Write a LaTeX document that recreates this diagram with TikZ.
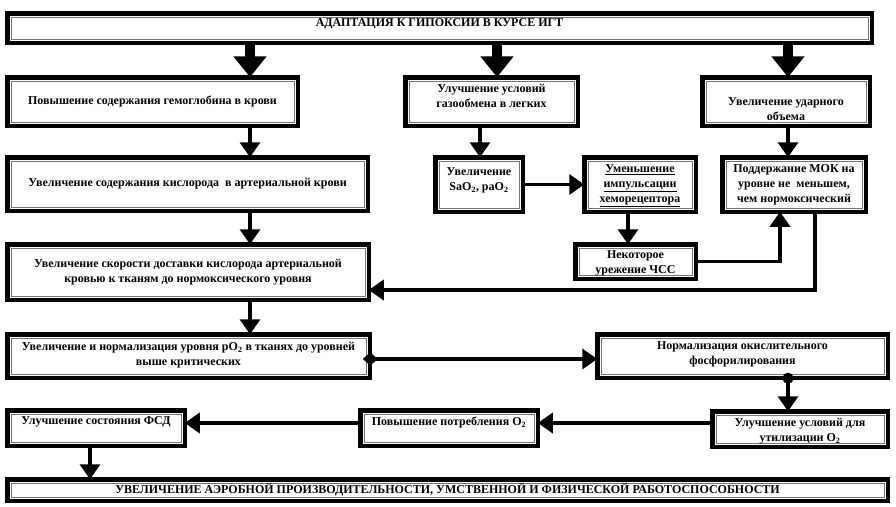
\documentclass[tikz,border=0pt]{standalone}
\usepackage{fontspec}
\setmainfont{Liberation Serif}
\usetikzlibrary{arrows.meta}
% name, x1, y1, x2, y2, inner alignment (t/c/b), top pad, text
\newcommand\bx[8]{%
  \node[box, minimum width={#4-#2-4.5}, minimum height={#5-#3-4.5}] (#1) at ({(#2+#4)/2},{(#3+#5)/2})
  {\parbox[c][\dimexpr#5pt-#3pt-7pt\relax][#6]{\dimexpr#4pt-#2pt-12pt\relax}{\vspace*{#7pt}\centering #8}};}
\begin{document}
\begin{tikzpicture}[x=1pt,y=-1pt,
  box/.style={draw=black, line width=4.5pt, fill=white, inner sep=0pt, outer sep=0pt,
    font=\bfseries\fontsize{12}{15}\selectfont,
    path picture={\draw[black!55, line width=0.6pt]
      ([shift={(3.6pt,-3.6pt)}]path picture bounding box.north west) rectangle
      ([shift={(-3.6pt,3.6pt)}]path picture bounding box.south east);}},
  con/.style={line width=3.5pt, -{Triangle[length=15pt,width=20pt]}},
  big/.style={line width=10pt, -{Triangle[length=21pt,width=32pt]}},
]
\useasboundingbox (0,0) rectangle (896,506);
\fill[white] (0,0) rectangle (896,506);

\bx{T}{5}{11}{874}{45}{t}{4}{АДАПТАЦИЯ К ГИПОКСИИ В КУРСЕ ИГТ}
\bx{A1}{5}{75}{300}{128}{c}{0}{Повышение содержания гемоглобина в крови}
\bx{B1}{403}{75}{580}{128}{t}{6}{Улучшение условий\\газообмена в легких}
\bx{C1}{700}{75}{872}{128}{t}{19}{Увеличение ударного\\объема}
\bx{A2}{5}{155}{370}{213}{c}{0}{Увеличение содержания кислорода\ \ в артериальной крови}
\bx{B2}{433}{155}{525}{214}{t}{9}{Увеличение\\SaO\textsubscript{2}, paO\textsubscript{2}}
\bx{B3}{582}{155}{698}{214}{t}{6}{\underline{Уменьшение}\\\underline{импульсации}\\\underline{хеморецептора}}
\bx{C2}{720}{155}{868}{214}{t}{6}{Поддержание МОК на\\уровне не\ \ меньшем,\\чем нормоксический}
\bx{B4}{573}{242}{698}{281}{t}{5.5}{Некоторое\\урежение ЧСС}
\bx{A3}{5}{242}{371}{302}{c}{0}{Увеличение скорости доставки кислорода артериальной\\кровью к тканям до нормоксического уровня}
\bx{A4}{5}{332}{372}{380}{t}{7}{Увеличение и нормализация уровня pO\textsubscript{2} в тканях до уровней\\выше критических}
\bx{D1}{595}{332}{890}{380}{t}{6.5}{Нормализация окислительного\\фосфорилирования}
\bx{A5}{5}{408}{187}{448}{t}{5.5}{Улучшение состояния ФСД}
\bx{B5}{358}{408}{540}{448}{t}{5.5}{Повышение потребления O\textsubscript{2}}
\bx{D2}{710}{409}{890}{449}{t}{6}{Улучшение условий для\\утилизации O\textsubscript{2}}
\bx{Bot}{5}{477}{890}{503}{c}{0}{УВЕЛИЧЕНИЕ АЭРОБНОЙ ПРОИЗВОДИТЕЛЬНОСТИ, УМСТВЕННОЙ И ФИЗИЧЕСКОЙ РАБОТОСПОСОБНОСТИ}

\coordinate (xA) at (250,0);
\coordinate (xB) at (497,0);
\coordinate (xC) at (788,0);
\coordinate (xB2) at (480,0);
\coordinate (xB3) at (628,0);
\coordinate (xC2a) at (780,0);
\coordinate (xC2b) at (815,0);
\coordinate (xD) at (788,0);
\coordinate (xE) at (90,0);
\coordinate (yL) at (0,290);
\coordinate (yM) at (0,359);
\coordinate (yN) at (0,423);

\draw[big] (T.south -| xA) -- (A1.north -| xA);
\draw[big] (T.south -| xB) -- (B1.north -| xB);
\draw[big] (T.south -| xC) -- (C1.north -| xC);

\draw[con] (A1.south -| xA) -- (A2.north -| xA);
\draw[con] (A2.south -| xA) -- (A3.north -| xA);
\draw[con] (A3.south -| xA) -- (A4.north -| xA);
\draw[con] (B1.south -| xB2) -- (B2.north -| xB2);
\draw[con] (B2.east) -- (B3.west);
\draw[con] (B3.south -| xB3) -- (B4.north -| xB3);
\draw[con] (C1.south -| xC) -- (C2.north -| xC);
\draw[con] (B4.east) -| (C2.south -| xC2a);
\draw[con] (C2.south -| xC2b) -- (xC2b |- yL) -- (A3.east |- yL);
\draw[con, {Diamond[length=15pt,width=13pt]}-{Triangle[length=15pt,width=20pt]}]
  ([xshift=-7pt]A4.east |- yM) -- (D1.west |- yM);
\draw[con, {Circle[length=11pt]}-{Triangle[length=15pt,width=20pt]}]
  ([yshift=5pt]D1.south -| xD) -- (D2.north -| xD);
\draw[con] (D2.west |- yN) -- (B5.east |- yN);
\draw[con] (B5.west |- yN) -- (A5.east |- yN);
\draw[con] (A5.south -| xE) -- (Bot.north -| xE);
\end{tikzpicture}
\end{document}
